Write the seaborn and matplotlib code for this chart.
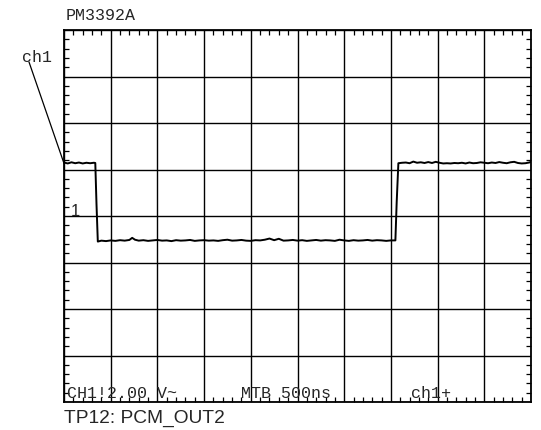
import numpy as np
import pandas as pd
import matplotlib
matplotlib.use("Agg")
import matplotlib.pyplot as plt
from matplotlib.ticker import MultipleLocator
import seaborn as sns

# Captured trace: time (ns) and channel-1 voltage (V)
time_ns = [0, 40, 80, 120, 160, 200, 240, 280, 320, 335, 348, 362,
           400, 450, 500, 550, 600, 650, 700, 730, 760, 800, 850, 900, 950,
           1000, 1050, 1100, 1150, 1200, 1250, 1300, 1350, 1400, 1450,
           1500, 1550, 1600, 1650, 1700, 1750, 1800, 1850, 1900, 1950,
           2000, 2050, 2100, 2150, 2200, 2250, 2300, 2350, 2400, 2450,
           2500, 2550, 2600, 2650, 2700, 2750, 2800, 2850, 2900, 2950,
           3000, 3050, 3100, 3150, 3200, 3250, 3300, 3350, 3400, 3450,
           3500, 3548, 3562, 3580,
           3620, 3660, 3700, 3740, 3780, 3820, 3860, 3900, 3940, 3980,
           4020, 4060, 4100, 4140, 4180, 4220, 4260, 4300, 4340, 4380,
           4420, 4460, 4500, 4540, 4580, 4620, 4660, 4700, 4740, 4780,
           4820, 4860, 4900, 4940, 4980, 5000]
volts = [2.30, 2.26, 2.31, 2.27, 2.30, 2.26, 2.29, 2.27, 2.29, 2.28, 0.50, -1.10,
         -1.06, -1.08, -1.05, -1.07, -1.04, -1.06, -1.03, -0.94, -1.02, -1.06, -1.04, -1.07, -1.05,
         -1.03, -1.06, -1.05, -1.08, -1.04, -1.06, -1.05, -1.03, -1.07, -1.05,
         -1.04, -1.06, -1.05, -1.07, -1.04, -1.02, -1.06, -1.05, -1.03, -1.06,
         -1.07, -1.04, -1.05, -1.02, -0.97, -1.04, -0.98, -1.06, -1.05, -1.03,
         -1.06, -1.04, -1.07, -1.05, -1.03, -1.06, -1.04, -1.05, -1.07, -1.02,
         -1.05, -1.07, -1.04, -1.06, -1.05, -1.03, -1.06, -1.04, -1.05, -1.07,
         -1.05, -1.05, 0.60, 2.27,
         2.29, 2.30, 2.27, 2.34, 2.29, 2.31, 2.28, 2.32, 2.28, 2.33,
         2.29, 2.26, 2.27, 2.26, 2.28, 2.27, 2.29, 2.26, 2.30, 2.27,
         2.28, 2.31, 2.29, 2.27, 2.30, 2.28, 2.32, 2.29, 2.27, 2.31,
         2.33, 2.28, 2.26, 2.27, 2.30, 2.33]

# Screen settings
time_per_div = 500      # ns/div (MTB 500ns)
volts_per_div = 2.0     # V/div (CH1 2.00 V~)
n_hdiv, n_vdiv = 10, 8

screen_labels = ["CH1!2.00 V~", "MTB 500ns", "ch1+"]
model_name = "PM3392A"
trace_name = "ch1"
caption = "TP12: PCM_OUT2"

sns.set_style("white")
plt.rcParams["font.family"] = ["Liberation Mono", "DejaVu Sans Mono"]

W, H = 541, 430
fig = plt.figure(figsize=(W / 100, H / 100), dpi=100)
left, right, top, bottom = 64, 531, 30, 402
ax = fig.add_axes([left / W, 1 - bottom / H, (right - left) / W, (bottom - top) / H])


def fx(px):
    return px / W


def fy(py):
    return 1 - py / H


df = pd.DataFrame({"t": time_ns, "v": volts})
sns.lineplot(data=df, x="t", y="v", ax=ax, color="black", lw=1.4,
             estimator=None, sort=False, zorder=3)

ax.set_xlim(0, n_hdiv * time_per_div)
ax.set_ylim(-n_vdiv / 2 * volts_per_div, n_vdiv / 2 * volts_per_div)
ax.xaxis.set_major_locator(MultipleLocator(time_per_div))
ax.yaxis.set_major_locator(MultipleLocator(volts_per_div))
ax.xaxis.set_minor_locator(MultipleLocator(time_per_div / 5))
ax.yaxis.set_minor_locator(MultipleLocator(volts_per_div / 5))
ax.grid(True, which="major", color="black", lw=1.0)
ax.tick_params(which="major", length=0, labelbottom=False, labelleft=False)
ax.tick_params(which="minor", direction="in", length=3.5, width=0.9, color="black",
               top=True, right=True, bottom=True, left=True)
ax.set_xlabel("")
ax.set_ylabel("")
for s in ax.spines.values():
    s.set_color("black")
    s.set_linewidth(1.3)

# Screen annotations
fig.text(fx(66), fy(20), model_name, fontsize=12, ha="left", va="baseline")
fig.text(fx(22), fy(62), trace_name, fontsize=12, ha="left", va="baseline")
ax.annotate("", xy=(0, volts[0] - 0.04), xycoords="data",
            xytext=(fx(29), fy(62)), textcoords="figure fraction",
            arrowprops=dict(arrowstyle="-", lw=0.9, color="black",
                            shrinkA=0, shrinkB=0))
fig.text(fx(71), fy(216), "1", fontsize=12, family=["Liberation Sans"],
         ha="left", va="baseline")
for label, px in zip(screen_labels, [67, 241, 411]):
    fig.text(fx(px), fy(398.5), label, fontsize=12, ha="left", va="baseline")

fig.text(fx(64), fy(423), caption, fontsize=13.8, family=["Liberation Sans"],
         ha="left", va="baseline")

fig.savefig("out.png", dpi=100, facecolor="white")
